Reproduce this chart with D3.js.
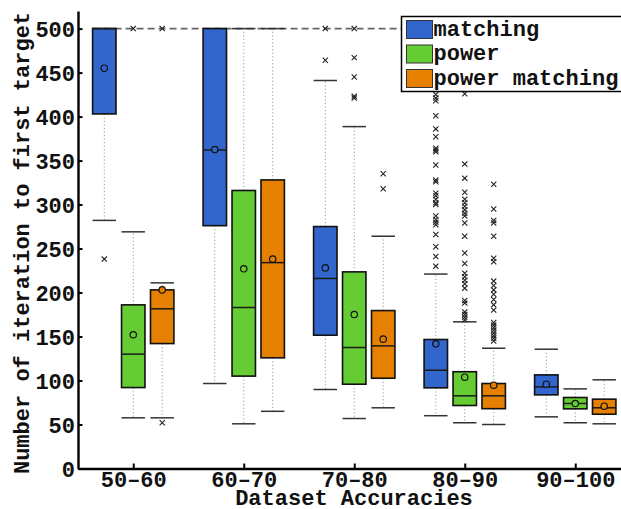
<!DOCTYPE html>
<html>
<head>
<meta charset="utf-8">
<script src="https://cdn.jsdelivr.net/npm/d3@7/dist/d3.min.js"></script>
<style>
  html, body { margin: 0; padding: 0; background: #fff; }
  svg { display: block; }
  text { font-family: "Liberation Mono", "Courier New", monospace; font-weight: bold; fill: #111; }
</style>
</head>
<body>
<svg id="chart" width="621" height="509"></svg>
<script>
// ---------------- DATA ----------------
const categories = ["50–60", "60–70", "70–80", "80–90", "90–100"];
const seriesNames = ["matching", "power", "power matching"];
const yTicks = [0, 50, 100, 150, 200, 250, 300, 350, 400, 450, 500];
const maxIter = 500;

// matching
const matchingLow    = [282, 96.6, 89.8, 60, 58.7];
const matchingQ1     = [403, 276, 151.5, 91.7, 83.7];
const matchingMedian = [500, 362, 216, 111.7, 92.8];
const matchingQ3     = [500, 500, 275, 146.6, 106.4];
const matchingHigh   = [500, 500, 441, 221, 135.6];
const matchingMean   = [455, 362.5, 228, 141.7, 95.8];
const matchingOutliers = [
  [238],
  [],
  [500, 464],
  [425, 421, 418, 401, 386, 377, 364, 362, 360, 345, 328, 326, 313, 310, 306, 302, 300, 287, 283, 280, 277, 266, 252, 241, 230],
  []
];

// power
const powerLow    = [57.6, 50.8, 56.8, 52, 52];
const powerQ1     = [92, 105, 95.8, 71.6, 67.8];
const powerMedian = [130, 183, 137.5, 82.6, 73.9];
const powerQ3     = [186, 316, 223.5, 110, 80.7];
const powerHigh   = [269, 500, 388.6, 166.7, 90.5];
const powerMean   = [152, 227, 175, 103.8, 73.9];
const powerOutliers = [
  [500],
  [],
  [500, 467, 445, 423, 421],
  [426, 346, 330, 314, 306, 302, 298, 294, 290, 287, 279, 264, 245, 233, 222, 218, 214, 210, 205, 191, 188, 178, 175, 172, 169],
  []
];

// power matching
const pmLow    = [57.6, 65, 69, 50, 50.8];
const pmQ1     = [142, 125.8, 102.6, 68, 61.7];
const pmMedian = [181.5, 234, 139.4, 82.6, 69];
const pmQ3     = [203, 328, 179.5, 96.6, 78.8];
const pmHigh   = [211, 500, 264, 136.7, 100.8];
const pmMean   = [203, 238, 147, 94.7, 70.8];
const pmOutliers = [
  [500, 52],
  [],
  [335, 318],
  [323, 295, 282, 279, 264, 239, 235, 213, 208, 203, 198, 192, 186, 180, 166, 163, 160, 157, 154, 151, 148, 145],
  []
];

const colors = ["#3366cc", "#66cc33", "#e68000"];

// ---------------- BUILD ----------------
const series = [
  {name: seriesNames[0], low: matchingLow, q1: matchingQ1, med: matchingMedian, q3: matchingQ3, high: matchingHigh, mean: matchingMean, out: matchingOutliers},
  {name: seriesNames[1], low: powerLow, q1: powerQ1, med: powerMedian, q3: powerQ3, high: powerHigh, mean: powerMean, out: powerOutliers},
  {name: seriesNames[2], low: pmLow, q1: pmQ1, med: pmMedian, q3: pmQ3, high: pmHigh, mean: pmMean, out: pmOutliers}
];

const svg = d3.select("#chart");

const x = d3.scaleLinear().domain([0.5, categories.length + 0.5]).range([78, 630.5]);
const y = d3.scaleLinear().domain([0, 520]).range([468.5, 11]);

const offset = 0.262;   // group offset in category units
const boxW = 0.212;     // box width in category units
const bw = x(1 + boxW) - x(1);

const plot = svg.append("g");

// dashed max line
plot.append("line")
  .attr("x1", x(1 - offset) - bw / 2).attr("x2", 640)
  .attr("y1", y(maxIter)).attr("y2", y(maxIter))
  .attr("stroke", "#666").attr("stroke-width", 1.6)
  .attr("stroke-dasharray", "7,4");

series.forEach((s, si) => {
  const g = plot.append("g");
  categories.forEach((c, ci) => {
    const cx = x(ci + 1 + (si - 1) * offset);
    const x0 = cx - bw / 2, x1 = cx + bw / 2;
    // whiskers (dotted)
    g.append("line").attr("x1", cx).attr("x2", cx)
      .attr("y1", y(s.q3[ci])).attr("y2", y(s.high[ci]))
      .attr("stroke", "#999").attr("stroke-width", 1).attr("stroke-dasharray", "1.2,2.3");
    g.append("line").attr("x1", cx).attr("x2", cx)
      .attr("y1", y(s.q1[ci])).attr("y2", y(s.low[ci]))
      .attr("stroke", "#999").attr("stroke-width", 1).attr("stroke-dasharray", "1.2,2.3");
    // caps
    [s.high[ci], s.low[ci]].forEach(v => {
      g.append("line").attr("x1", x0).attr("x2", x1)
        .attr("y1", y(v)).attr("y2", y(v))
        .attr("stroke", "#333").attr("stroke-width", 1.5);
    });
    // box
    g.append("rect")
      .attr("x", x0).attr("width", bw)
      .attr("y", y(s.q3[ci])).attr("height", y(s.q1[ci]) - y(s.q3[ci]))
      .attr("fill", colors[si]).attr("stroke", "#111").attr("stroke-width", 1.6);
    // median
    g.append("line").attr("x1", x0).attr("x2", x1)
      .attr("y1", y(s.med[ci])).attr("y2", y(s.med[ci]))
      .attr("stroke", "#1a1a1a").attr("stroke-width", 1.5);
    // mean
    g.append("circle").attr("cx", cx).attr("cy", y(s.mean[ci])).attr("r", 3.2)
      .attr("fill", colors[si]).attr("stroke", "#111").attr("stroke-width", 1.2);
    // outliers
    s.out[ci].forEach(v => {
      const py = y(v), r = 2.6;
      g.append("path")
        .attr("d", `M${cx - r},${py - r}L${cx + r},${py + r}M${cx - r},${py + r}L${cx + r},${py - r}`)
        .attr("stroke", "#222").attr("stroke-width", 1.1).attr("fill", "none");
    });
  });
});

// axes
const yAxis = d3.axisLeft(y).tickValues(yTicks).tickSizeInner(-4.5).tickSizeOuter(0).tickPadding(3);
const gy = svg.append("g").attr("transform", `translate(${x(0.5)},0)`).call(yAxis);
gy.select(".domain").attr("stroke", "#000").attr("stroke-width", 2.4);
gy.selectAll(".tick line").attr("stroke", "#000").attr("stroke-width", 2);
gy.selectAll(".tick text").attr("font-size", 22).attr("dy", "0.36em");

const xAxis = d3.axisBottom(x).tickValues(categories.map((c, i) => i + 1))
  .tickFormat((d, i) => categories[i]).tickSizeInner(-5).tickSizeOuter(0).tickPadding(7);
const gx = svg.append("g").attr("transform", `translate(0,${y(0)})`).call(xAxis);
gx.select(".domain").attr("stroke", "#000").attr("stroke-width", 2.4);
gx.selectAll(".tick line").attr("stroke", "#000").attr("stroke-width", 2);
gx.selectAll(".tick text").attr("font-size", 22).attr("dy", "0.5em");
gy.selectAll("text").attr("font-family", null).attr("fill", null);
gx.selectAll("text").attr("font-family", null).attr("fill", null);
gy.attr("font-family", null); gx.attr("font-family", null);

// axis labels
svg.append("text").attr("x", 354).attr("y", 505)
  .attr("text-anchor", "middle").attr("font-size", 22).text("Dataset Accuracies");
svg.append("text")
  .attr("transform", "translate(29,243) rotate(-90)")
  .attr("text-anchor", "middle").attr("font-size", 22).text("Number of iteration to first target");

// legend
const lg = svg.append("g").attr("transform", "translate(401.5,16.5)");
lg.append("rect").attr("width", 230).attr("height", 75)
  .attr("fill", "#fff").attr("stroke", "#000").attr("stroke-width", 1.5);
seriesNames.forEach((n, i) => {
  const row = lg.append("g").attr("transform", `translate(5,${4 + i * 24.5})`);
  row.append("rect").attr("width", 26).attr("height", 18)
    .attr("fill", colors[i]).attr("stroke", "#333").attr("stroke-width", 1);
  row.append("text").attr("x", 27).attr("y", 15).attr("font-size", 22).text(n);
});
</script>
</body>
</html>
